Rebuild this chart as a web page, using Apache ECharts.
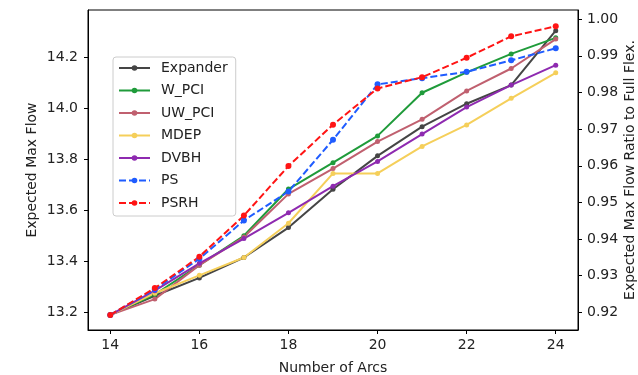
<!DOCTYPE html>
<html>
<head>
<meta charset="utf-8">
<script src="https://cdn.jsdelivr.net/npm/echarts@6/dist/echarts.min.js"></script>
<style>
  html, body { margin: 0; padding: 0; background: #fff; }
  #chart { width: 638px; height: 375px; }
</style>
</head>
<body>
<div id="chart"></div>
<script>
// number of arcs on the x axis
const arcs = [14, 15, 16, 17, 18, 19, 20, 21, 22, 23, 24];

const expander = [13.19, 13.265, 13.335, 13.415, 13.532, 13.682, 13.813, 13.927, 14.017, 14.09, 14.303];
const wPci = [13.19, 13.27, 13.385, 13.50, 13.683, 13.786, 13.891, 14.06, 14.14, 14.212, 14.275];
const uwPci = [13.19, 13.252, 13.385, 13.495, 13.664, 13.763, 13.869, 13.956, 14.067, 14.155, 14.27];
const mdep = [13.19, 13.275, 13.345, 13.415, 13.549, 13.744, 13.744, 13.85, 13.934, 14.038, 14.138];
const dvbh = [13.19, 13.285, 13.392, 13.489, 13.59, 13.694, 13.791, 13.898, 14.004, 14.09, 14.168];
const ps = [13.19, 13.29, 13.41, 13.56, 13.673, 13.876, 14.093, 14.117, 14.142, 14.187, 14.234];
const psrh = [13.19, 13.295, 13.418, 13.579, 13.773, 13.935, 14.077, 14.121, 14.197, 14.281, 14.32];

const xTicks = [14, 16, 18, 20, 22, 24];
const leftTicks = [13.2, 13.4, 13.6, 13.8, 14.0, 14.2];
const rightTicks = [0.92, 0.93, 0.94, 0.95, 0.96, 0.97, 0.98, 0.99, 1.00];

// full flexibility value, used to line up the ratio axis with the flow axis
const fullFlex = 14.348;
const leftMin = 13.131, leftMax = 14.384;

const font = "DejaVu Sans";

function mkSeries(name, values, color, dashed) {
  return {
    name: name,
    type: "line",
    data: arcs.map((a, i) => [a, values[i]]),
    symbol: "circle",
    symbolSize: dashed ? 6 : 5,
    itemStyle: { color: color },
    lineStyle: { color: color, width: 2, type: dashed ? [7, 3] : "solid" },
  };
}

const chart = echarts.init(document.getElementById("chart"), null, { renderer: "canvas" });

chart.setOption({
  animation: false,
  backgroundColor: "#fff",
  grid: {
    left: 88, right: 60, top: 10, bottom: 45,
    outerBoundsMode: "none",
    show: true, borderColor: "#000", borderWidth: 1, backgroundColor: "#fff",
  },
  legend: {
    orient: "vertical",
    left: 113, top: 57,
    itemWidth: 31, itemHeight: 7, itemGap: 8.5,
    padding: [4, 8, 6, 5],
    borderColor: "#ccc", borderWidth: 1, borderRadius: 3,
    backgroundColor: "#fff",
    textStyle: { fontFamily: font, fontSize: 14, color: "#222", padding: [0, 0, 0, 6] },
    data: ["Expander", "W_PCI", "UW_PCI", "MDEP", "DVBH", "PS", "PSRH"],
  },
  xAxis: {
    type: "value",
    min: 13.5, max: 24.5,
    name: "Number of Arcs",
    nameLocation: "middle", nameGap: 31,
    nameTextStyle: { fontFamily: font, fontSize: 14, color: "#222" },
    splitLine: { show: false },
    axisLine: { show: true, lineStyle: { color: "#000" } },
    axisTick: { show: true, length: 4, lineStyle: { color: "#000" }, customValues: xTicks },
    axisLabel: { fontFamily: font, fontSize: 14, color: "#222", margin: 8, customValues: xTicks },
  },
  yAxis: [
    {
      type: "value",
      min: leftMin, max: leftMax,
      name: "Expected Max Flow",
      nameLocation: "middle", nameGap: 49, nameRotate: 90, nameMoveOverlap: false,
      nameTextStyle: { fontFamily: font, fontSize: 14, color: "#222" },
      splitLine: { show: false },
      axisLine: { show: true, lineStyle: { color: "#000" } },
      axisTick: { show: true, length: 4, lineStyle: { color: "#000" }, customValues: leftTicks },
      axisLabel: {
        fontFamily: font, fontSize: 14, color: "#222", margin: 10,
        customValues: leftTicks, formatter: v => v.toFixed(1),
      },
    },
    {
      type: "value",
      position: "right",
      min: leftMin / fullFlex, max: leftMax / fullFlex,
      name: "Expected Max Flow Ratio to Full Flex.",
      nameLocation: "middle", nameGap: 45, nameRotate: 90, nameMoveOverlap: false,
      nameTextStyle: { fontFamily: font, fontSize: 14, color: "#222" },
      splitLine: { show: false },
      axisLine: { show: true, lineStyle: { color: "#000" } },
      axisTick: { show: true, length: 4, lineStyle: { color: "#000" }, customValues: rightTicks },
      axisLabel: {
        fontFamily: font, fontSize: 14, color: "#222", margin: 9,
        customValues: rightTicks, formatter: v => v.toFixed(2),
      },
    },
  ],
  series: [
    mkSeries("Expander", expander, "#454545", false),
    mkSeries("W_PCI", wPci, "#1f9b3a", false),
    mkSeries("UW_PCI", uwPci, "#c0606f", false),
    mkSeries("MDEP", mdep, "#f5cf5a", false),
    mkSeries("DVBH", dvbh, "#8e2ab0", false),
    mkSeries("PS", ps, "#1f5cff", true),
    mkSeries("PSRH", psrh, "#ff1414", true),
  ],
});
</script>
</body>
</html>
